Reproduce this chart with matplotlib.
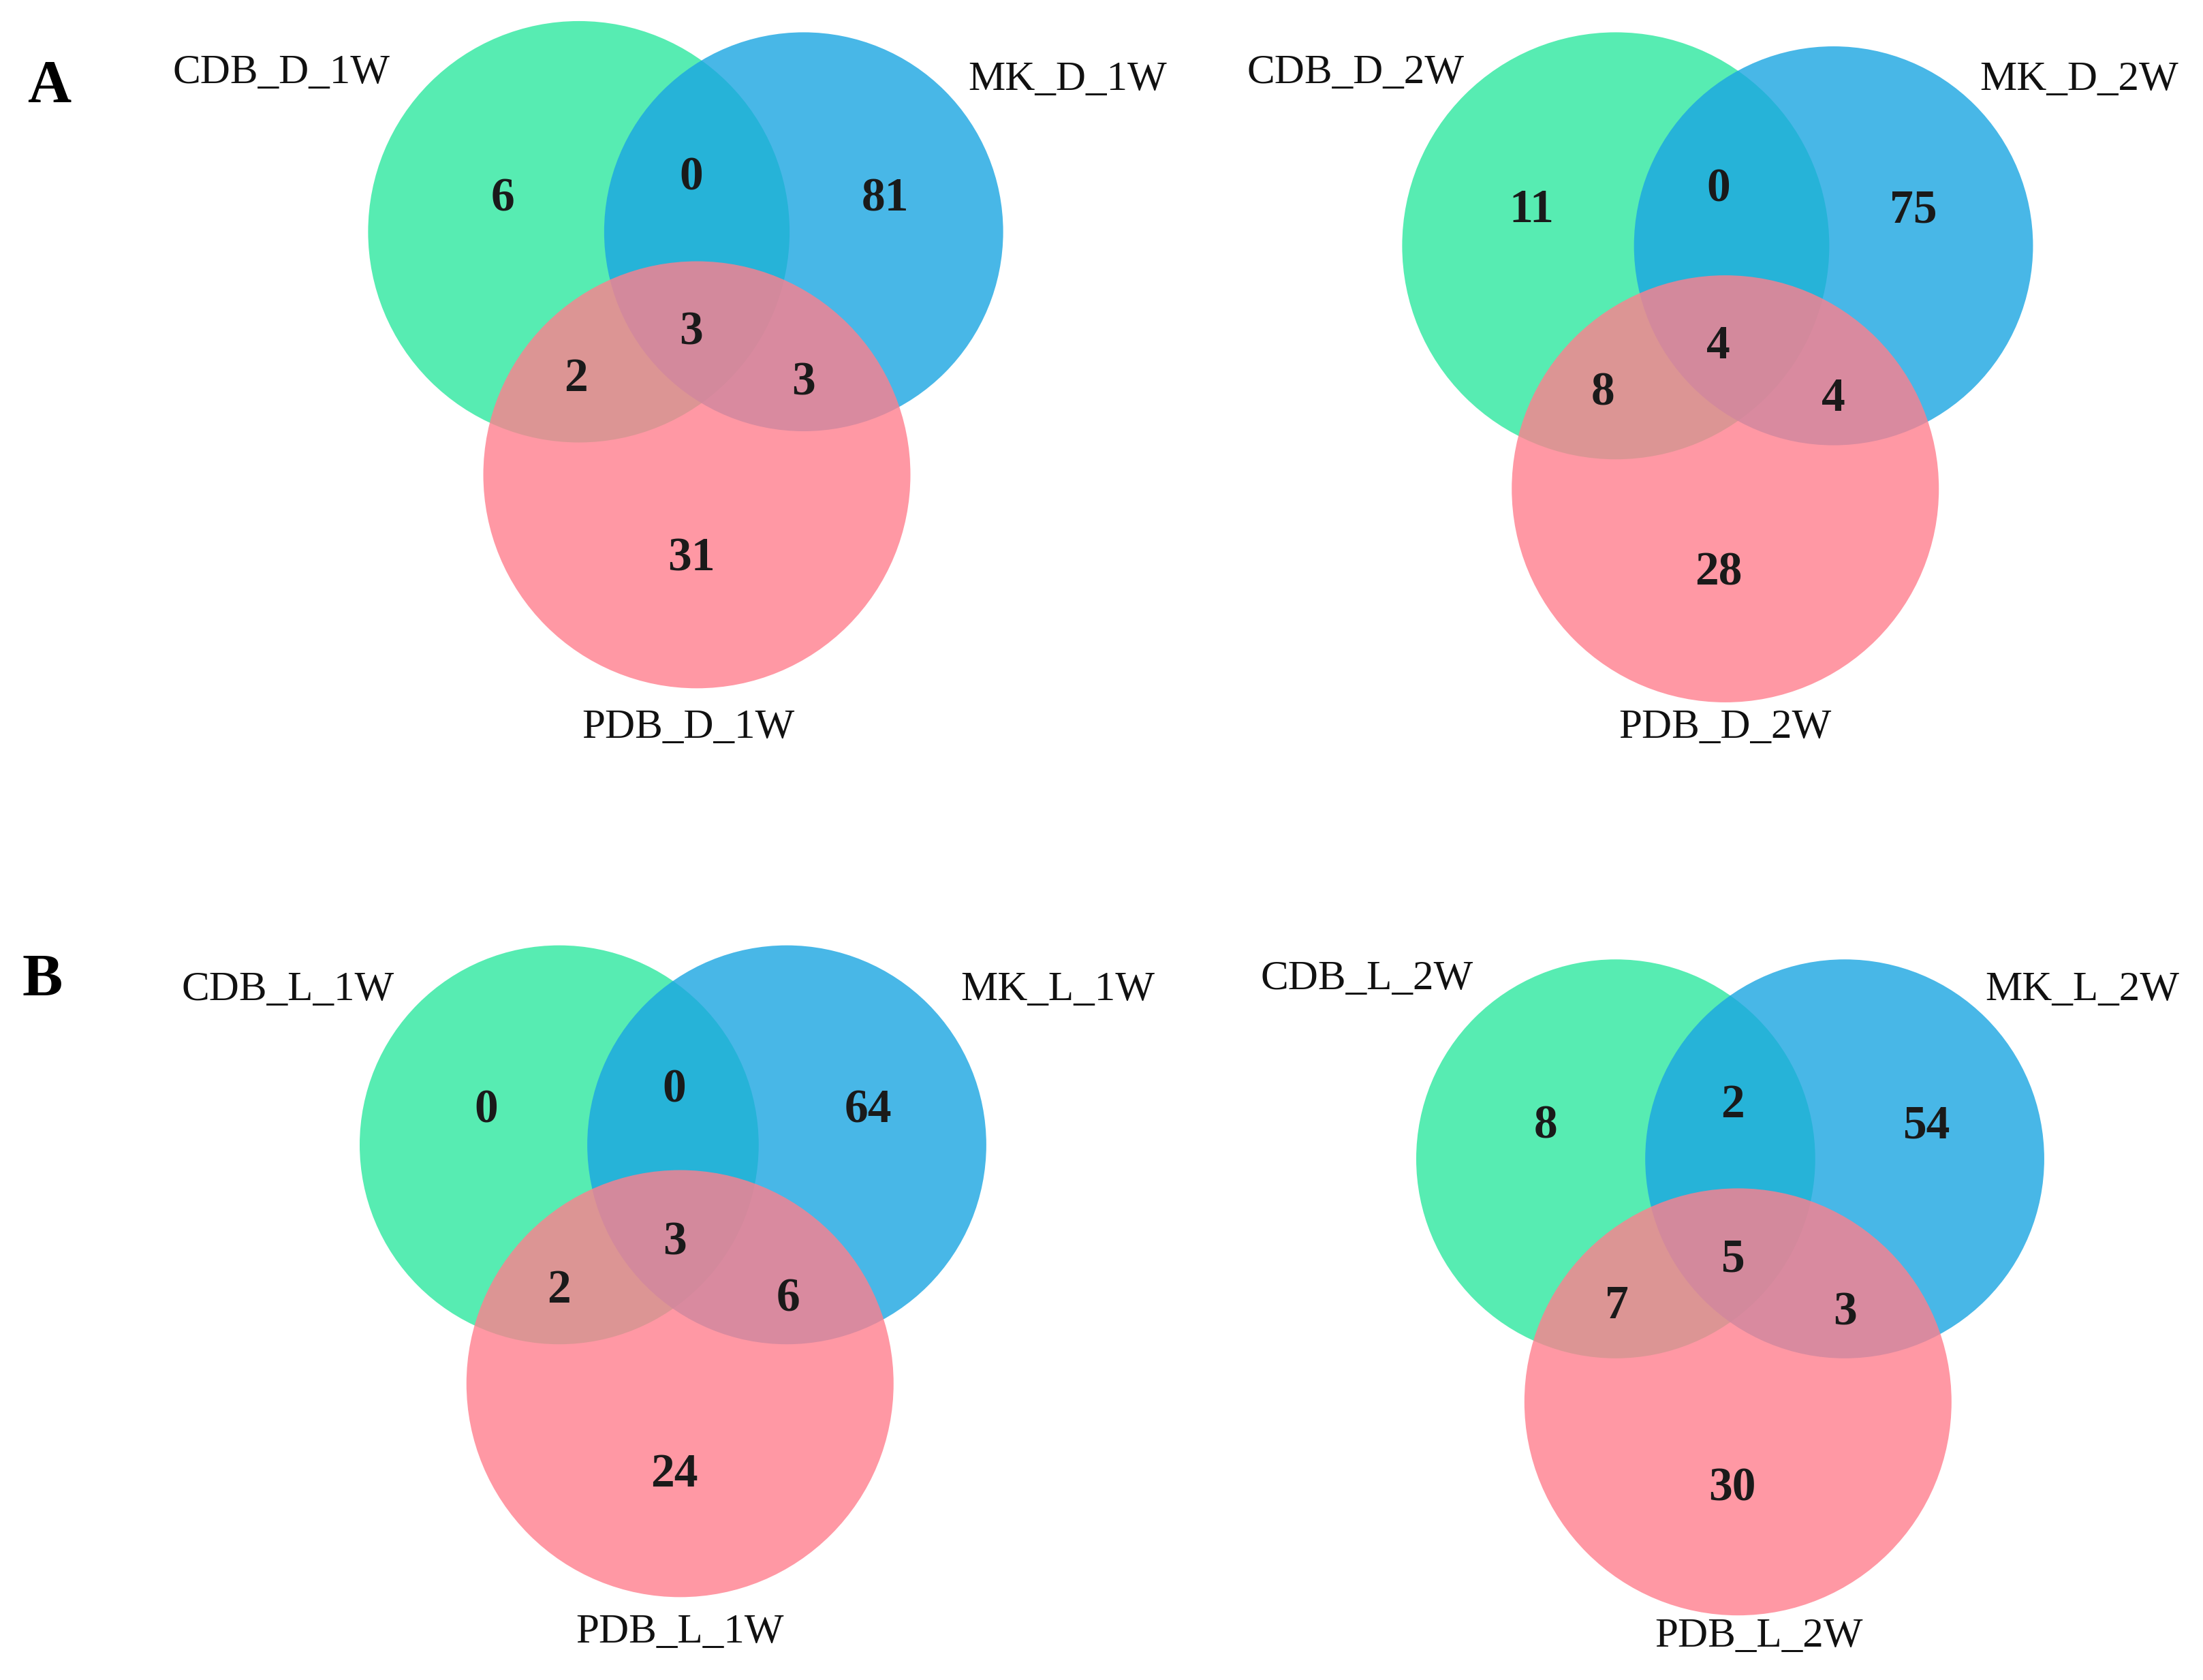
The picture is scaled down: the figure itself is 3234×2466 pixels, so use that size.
import matplotlib
matplotlib.use("Agg")
import matplotlib.pyplot as plt
from matplotlib.patches import Circle

# data: region counts [G only, G&B, B only, all, G&R, B&R, R only]
panel_names = [["CDB_D_1W", "MK_D_1W", "PDB_D_1W"],
               ["CDB_D_2W", "MK_D_2W", "PDB_D_2W"],
               ["CDB_L_1W", "MK_L_1W", "PDB_L_1W"],
               ["CDB_L_2W", "MK_L_2W", "PDB_L_2W"]]
counts_D_1W = [6, 0, 81, 3, 2, 3, 31]
counts_D_2W = [11, 0, 75, 4, 8, 4, 28]
counts_L_1W = [0, 0, 64, 3, 2, 6, 24]
counts_L_2W = [8, 2, 54, 5, 7, 3, 30]
all_counts = [counts_D_1W, counts_D_2W, counts_L_1W, counts_L_2W]

# layout (display units of a 1568x1196 canvas)
circles = [
    [((412, 165), 150), ((572, 165), 142), ((496, 338), 152)],
    [((1150, 175), 152), ((1305, 175), 142), ((1228, 348), 152)],
    [((398, 815), 142), ((560, 815), 142), ((484, 985), 152)],
    [((1150, 825), 142), ((1313, 825), 142), ((1237, 998), 152)],
]
num_pos = [
    [(358, 142), (492, 127), (630, 142), (492, 237), (410, 270), (572, 273), (492, 398)],
    [(1090, 150), (1223, 135), (1362, 150), (1223, 247), (1141, 280), (1305, 284), (1223, 408)],
    [(346, 791), (480, 776), (618, 791), (480, 885), (398, 919), (561, 925), (480, 1050)],
    [(1100, 802), (1233, 787), (1371, 802), (1233, 897), (1151, 930), (1313, 935), (1233, 1060)],
]
label_pos = [
    [(200, 52), (760, 57), (490, 518)],
    [(965, 52), (1480, 57), (1228, 518)],
    [(205, 705), (753, 705), (484, 1162)],
    [(973, 697), (1482, 705), (1252, 1165)],
]
colors = ["#2de89f", "#1aa5e2", "#ff7f8d"]

fig = plt.figure(figsize=(32.34, 24.66), dpi=100)
ax = fig.add_axes([0, 0, 1, 1])
ax.set_xlim(0, 1568)
ax.set_ylim(1196, 0)
ax.axis("off")

serif = ["Liberation Serif", "DejaVu Serif"]
for p in range(4):
    for (c, r), col in zip(circles[p], colors):
        ax.add_patch(Circle(c, r, facecolor=col, alpha=0.8, edgecolor="none"))
    for (x, y), v in zip(num_pos[p], all_counts[p]):
        ax.text(x, y, str(v), ha="center", va="center", fontsize=50,
                fontweight="bold", family=serif, color="#1a1a1a")
    for (x, y), s in zip(label_pos[p], panel_names[p]):
        ax.text(x, y, s, ha="center", va="center", fontsize=44, family=serif, color="#111")

ax.text(35, 62, "A", ha="center", va="center", fontsize=64, fontweight="bold", family=serif)
ax.text(30, 698, "B", ha="center", va="center", fontsize=64, fontweight="bold", family=serif)

fig.savefig("out.png", dpi=100)
